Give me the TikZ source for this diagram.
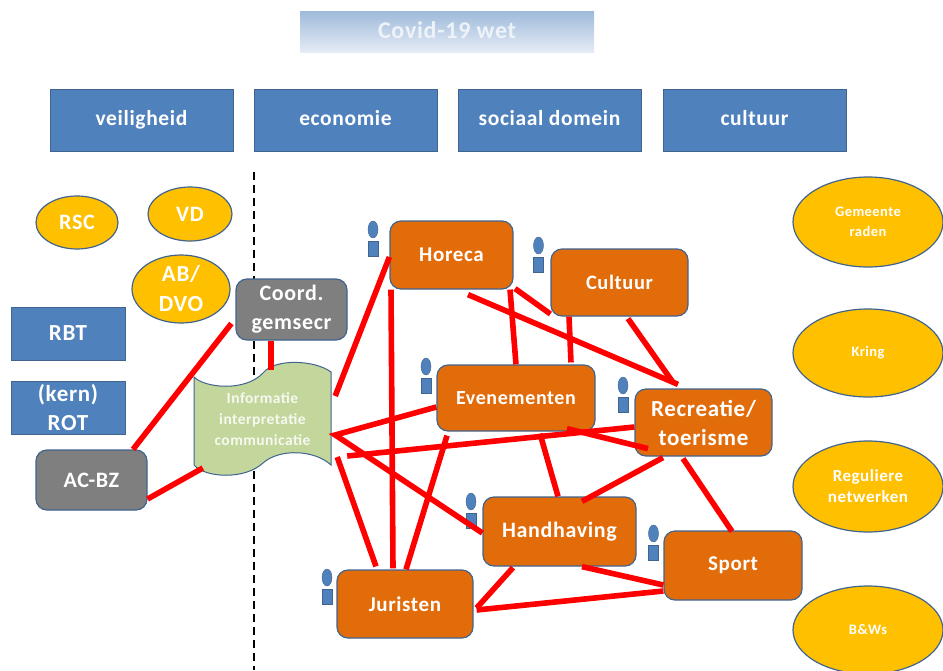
\documentclass[tikz,border=0pt]{standalone}
\usepackage{fontspec}
\usetikzlibrary{shapes.geometric}
\setmainfont{Carlito}[LetterSpace=3]
\definecolor{kop}{HTML}{4F81BD}
\definecolor{rand}{HTML}{41648F}
\definecolor{oranje}{HTML}{E36C0A}
\definecolor{geel}{HTML}{FFC000}
\definecolor{grijs}{HTML}{7F7F7F}
\definecolor{groen}{HTML}{C3D69B}
\newcommand{\maat}[2]{\fontsize{#1}{#2}\selectfont\bfseries}
\begin{document}
\begin{tikzpicture}[x=1pt, y=-1pt,
	kopbox/.style={rectangle, draw=rand, line width=0.8pt, fill=kop, text=white, inner sep=0pt,
		align=center, font=\maat{21.5}{27}},
	kolom/.style={kopbox, minimum width=183pt, minimum height=62pt, text height=14pt, text depth=4pt},
	taak/.style={rectangle, rounded corners=11pt, draw=rand, line width=1.2pt, fill=oranje,
		text=white, inner sep=0pt, align=center, font=\maat{21}{29}},
	staf/.style={taak, fill=grijs, font=\maat{22}{29}},
	ovaal/.style={ellipse, draw=rand, line width=1.2pt, fill=geel, text=white, inner sep=0pt,
		align=center, font=\maat{22}{30}},
	klein/.style={ovaal, font=\maat{14.5}{20}},
	lijn/.style={red, line width=5.6pt}]
	\useasboundingbox (0,0) rectangle (943,670);

	% scheidslijn
	\coordinate (top) at (254,172);
	\coordinate (bodem) at (254,670);
	\draw[black, line width=1.5pt, dash pattern=on 8pt off 5pt] (top) -- (bodem);

	\shade[top color=kop!55!white, bottom color=kop!15!white] (300,11) rectangle (594,52);
	\node[text=white!90!kop, font=\maat{24}{27}] (titel) at (447,30) {Covid-19 wet};

	\node[kolom] (veilig) at (141.5,120) {veiligheid};
	\node[kolom] (econ) at (345.5,120) {economie};
	\node[kolom] (sociaal) at (549.5,120) {sociaal domein};
	\node[kolom] (kunst) at (754.5,120) {cultuur};

	\node[ovaal, minimum width=82pt, minimum height=53pt] (rsc) at (77,222.5) {RSC};
	\node[ovaal, minimum width=84pt, minimum height=54pt] (vd) at (190,214) {VD};
	\node[ovaal, minimum width=98pt, minimum height=68pt, font=\maat{23}{30}] (ab) at (181,289) {AB/\\DVO};

	\node[kopbox, minimum width=114pt, minimum height=53pt, font=\maat{23}{29}] (rbt) at (68,333.5) {RBT};
	\node[kopbox, minimum width=114pt, minimum height=53pt, font=\maat{23}{29}] (rot) at (68,407.5) {(kern)\\ROT};

	\node[staf, minimum width=111pt, minimum height=60pt] (acbz) at (91.5,480) {AC-BZ};
	\node[staf, minimum width=111pt, minimum height=61pt] (coord) at (291.5,309.5) {Coord.\\gemsecr};

	% informatie blad
	\draw[rand, line width=1pt, fill=groen] (194,377) .. controls (205,388) and (245,392) .. (263,373)
		.. controls (275,358) and (315,360) .. (331,372) -- (331,465)
		.. controls (315,450) and (280,448) .. (263,463)
		.. controls (245,480) and (205,478) .. (194,465) -- cycle;
	\node[text=groen!15!white, align=center, inner sep=0pt, minimum width=137pt, minimum height=92pt,
		font=\maat{15.5}{21}] (info) at (262.5,419) {Informatie\\interpretatie\\communicatie};

	\node[taak, minimum width=123pt, minimum height=68pt] (horeca) at (451.5,255) {Horeca};
	\node[taak, minimum width=137pt, minimum height=67pt, font=\maat{20.5}{29}] (cult) at (619.5,282.5) {Cultuur};
	\node[taak, minimum width=158pt, minimum height=66pt, font=\maat{20}{29}] (even) at (516,398) {Evenementen};
	\node[taak, minimum width=137pt, minimum height=67pt, font=\maat{23}{29}] (recr) at (703.5,422.5) {Recreatie/\\toerisme};
	\node[taak, minimum width=153pt, minimum height=69pt, font=\maat{22}{29}] (hand) at (559.5,531.5) {Handhaving};
	\node[taak, minimum width=138pt, minimum height=69pt] (sport) at (733,565.5) {Sport};
	\node[taak, minimum width=136pt, minimum height=68pt] (jur) at (405,604) {Juristen};

	\foreach \n/\x/\y in {a/373/221, b/538.5/237, c/426/358, d/623/377, e/471/493, f/653.5/525, g/327/569} {
		\node[ellipse, fill=kop, draw=rand, line width=0.4pt, inner sep=0pt, minimum width=10pt, minimum height=17pt]
			(hoofd\n) at (\x,\y+8.5) {};
		\node[rectangle, fill=kop, draw=rand, line width=0.4pt, inner sep=0pt, minimum width=10pt, minimum height=15pt]
			(romp\n) at (\x,\y+27.5) {};
	}

	\node[klein, minimum width=150pt, minimum height=90pt] (raden) at (868,222) {Gemeente\\raden};
	\node[klein, minimum width=150pt, minimum height=88pt] (kring) at (868,353) {Kring};
	\node[klein, minimum width=150pt, minimum height=91pt, font=\maat{17}{21}] (netw) at (868,486.5) {Reguliere\\netwerken};
	\node[klein, minimum width=150pt, minimum height=88pt] (bw) at (868,630) {B\&Ws};

	% verbindingen links
	\draw[lijn] ([xshift=-4pt,yshift=-14pt]coord.west) -- ([xshift=41.5pt]acbz.north);
	\draw[lijn] ([yshift=-19pt]acbz.east) -- ([xshift=9pt,yshift=-49pt]info.west);
	\draw[lijn] ([xshift=-20.5pt]coord.south) -- ([xshift=8.5pt,yshift=3pt]info.north);
	\draw[lijn] ([xshift=4pt,yshift=23pt]info.east) -- ([yshift=-2pt]horeca.west);
	\draw[lijn] ([xshift=-60.5pt]horeca.south) -- ([xshift=-12pt,yshift=1pt]jur.north);

	% verbindingen vanuit informatie
	\draw[lijn] ([xshift=6pt,yshift=-38pt]info.east) -- ([xshift=-29pt,yshift=3pt]jur.north);
	\draw[lijn] ([yshift=-9pt]even.west) -- ([xshift=4pt,yshift=-16pt]info.east) -- ([yshift=-1.5pt]hand.west);
	\draw[lijn] ([xshift=16pt,yshift=-37pt]info.east) -- ([yshift=-4.5pt]recr.west);
	\draw[lijn] ([xshift=-69pt,yshift=-4pt]even.south) -- ([xshift=1pt]jur.north);

	% verbindingen rechts
	\draw[lijn] ([xshift=51pt,yshift=3pt]even.south) -- ([xshift=-55.5pt,yshift=8pt]recr.south);
	\draw[lijn] ([xshift=24pt,yshift=-2pt]even.south) -- ([xshift=-1.5pt]hand.north);
	\draw[lijn] ([xshift=58.5pt]horeca.south) -- (even.north);
	\draw[lijn] ([xshift=63.5pt,yshift=1pt]horeca.south) -- ([yshift=-31.5pt]cult.west);
	\draw[lijn] ([xshift=16.5pt,yshift=-5pt]horeca.south) -- ([xshift=-25.5pt,yshift=4pt]recr.north);
	\draw[lijn] ([xshift=-50.5pt]cult.south) -- ([xshift=55pt,yshift=2pt]even.north);
	\draw[lijn] ([xshift=8.5pt,yshift=-2pt]cult.south) -- ([xshift=-30.5pt,yshift=6pt]recr.north);
	\draw[lijn] ([xshift=-40.5pt,yshift=-1pt]recr.south) -- ([xshift=22.5pt,yshift=-5pt]hand.north);
	\draw[lijn] ([xshift=-20.5pt,yshift=-2pt]recr.south) -- ([xshift=-1pt,yshift=-1pt]sport.north);
	\draw[lijn] ([xshift=22.5pt]hand.south) -- ([yshift=-19.5pt]sport.west);
	\draw[lijn] ([xshift=-46.5pt,yshift=-1pt]hand.south) -- ([xshift=3pt,yshift=-4pt]jur.east);
	\draw[lijn] ([xshift=3pt,yshift=-6pt]jur.east) -- ([yshift=-25.5pt]sport.west);
\end{tikzpicture}
\end{document}
